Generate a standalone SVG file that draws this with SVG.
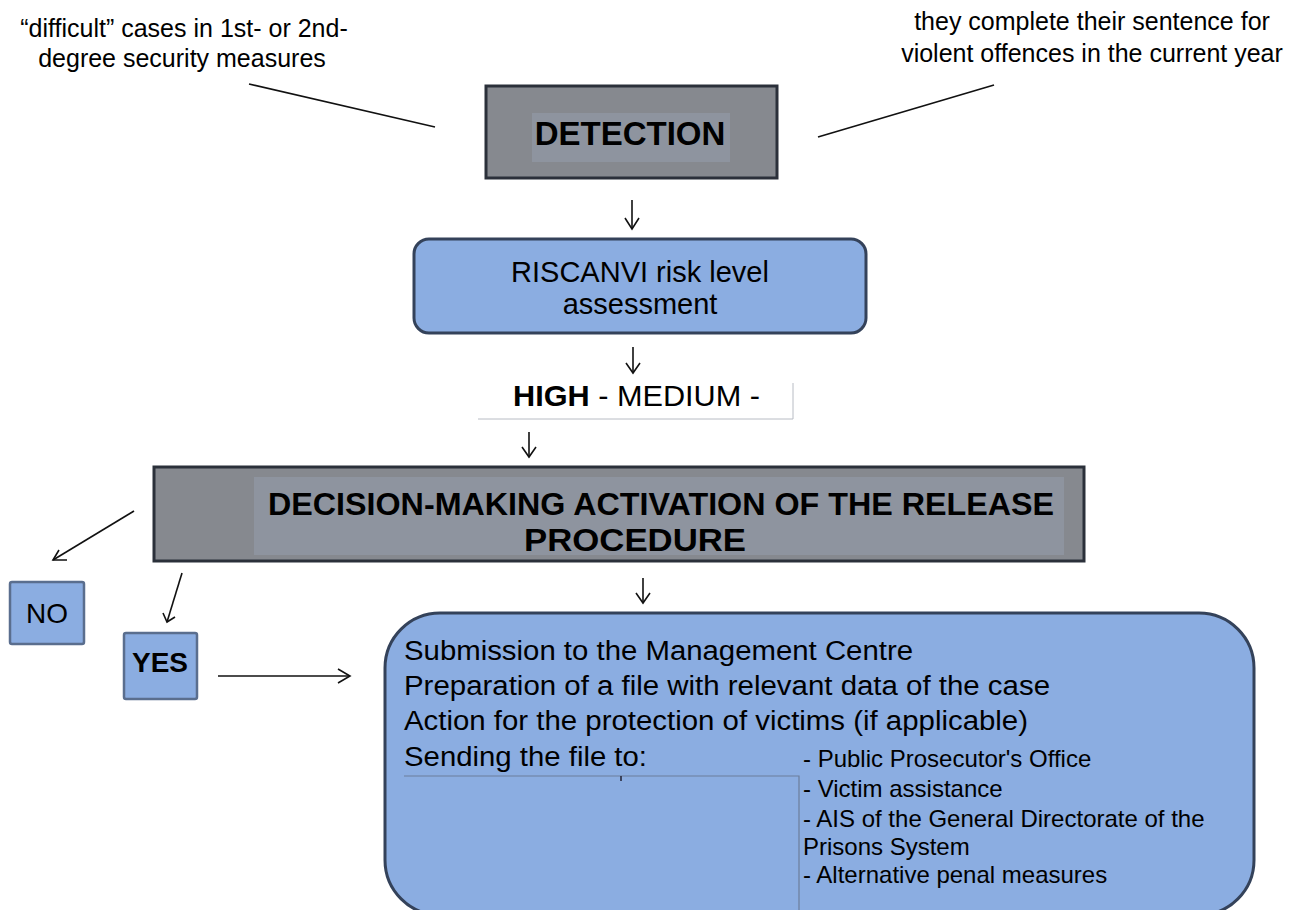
<svg xmlns="http://www.w3.org/2000/svg" width="1299" height="910" viewBox="0 0 1299 910">
<style>
text{font-family:"Liberation Sans",Arial,sans-serif;fill:#000}
.grey{fill:#86898f;stroke:#2b303a;stroke-width:3}
.inner{fill:#8e949f}
.blue{fill:#8badE1;stroke:#34425a;stroke-width:3}
.small{fill:#8badE1;stroke:#5a6e8e;stroke-width:2.5}
.ln{stroke:#111;stroke-width:1.6;fill:none}
.ah{stroke:#111;stroke-width:1.6;fill:none}
.thin{stroke:#b8bcc4;stroke-width:1;fill:none}
.big{font-size:27px}
.list{font-size:24px}
</style>
<rect width="1299" height="910" fill="#fff"/>

<g id="label-left">
<text x="184" y="37" font-size="25" text-anchor="middle">“difficult” cases in 1st- or 2nd-</text>
<text x="182" y="67" font-size="25" text-anchor="middle">degree security measures</text>
</g>
<g id="label-right">
<text x="1092" y="30" font-size="25" text-anchor="middle">they complete their sentence for</text>
<text x="1092" y="62" font-size="25" text-anchor="middle">violent offences in the current year</text>
</g>

<g id="detection">
<rect class="grey" x="486" y="86" width="291" height="92"/>
<rect class="inner" x="532" y="113" width="198" height="49"/>
<text x="630" y="145" font-size="33" font-weight="bold" text-anchor="middle">DETECTION</text>
</g>

<g id="riscanvi">
<rect class="blue" x="414" y="239" width="452" height="94" rx="15"/>
<text x="640" y="282" font-size="29" text-anchor="middle">RISCANVI risk level</text>
<text x="640" y="314" font-size="29" text-anchor="middle">assessment</text>
</g>

<g id="levels">
<polyline class="thin" points="478,419 793,419 793,383"/>
<text x="513" y="406" font-size="30" textLength="247" lengthAdjust="spacingAndGlyphs"><tspan font-weight="bold">HIGH</tspan> - MEDIUM -</text>
</g>

<g id="decision">
<rect class="grey" x="154" y="467" width="930" height="94"/>
<rect class="inner" x="254" y="477" width="810" height="78"/>
<text x="268" y="515" font-size="32" font-weight="bold" textLength="786" lengthAdjust="spacingAndGlyphs">DECISION-MAKING ACTIVATION OF THE RELEASE</text>
<text x="524" y="551" font-size="32" font-weight="bold" textLength="222" lengthAdjust="spacingAndGlyphs">PROCEDURE</text>
</g>

<g id="no">
<rect class="small" x="10" y="582" width="74" height="62" rx="2"/>
<text x="47" y="623" font-size="28" text-anchor="middle">NO</text>
</g>

<g id="yes">
<rect class="small" x="124" y="633" width="73" height="66" rx="2"/>
<text x="160" y="672" font-size="28" font-weight="bold" text-anchor="middle">YES</text>
</g>

<g id="process">
<rect class="blue" x="385" y="613" width="869" height="302" rx="55"/>
<rect x="1238" y="904" width="61" height="6" fill="#fff"/>
<polyline points="404,776 799,776 799,910" fill="none" stroke="#6d7f9c" stroke-width="1.2"/>
<line x1="621" y1="776" x2="621" y2="781" stroke="#223" stroke-width="1.5"/>
<text class="big" x="404" y="660" textLength="509" lengthAdjust="spacingAndGlyphs">Submission to the Management Centre</text>
<text class="big" x="404" y="695" textLength="646" lengthAdjust="spacingAndGlyphs">Preparation of a file with relevant data of the case</text>
<text class="big" x="404" y="730" textLength="624" lengthAdjust="spacingAndGlyphs">Action for the protection of victims (if applicable)</text>
<text class="big" x="404" y="766" textLength="243" lengthAdjust="spacingAndGlyphs">Sending the file to:</text>
<text class="list" x="803" y="767">- Public Prosecutor's Office</text>
<text class="list" x="803" y="797">- Victim assistance</text>
<text class="list" x="803" y="827">- AIS of the General Directorate of the</text>
<text class="list" x="803" y="855">Prisons System</text>
<text class="list" x="803" y="883">- Alternative penal measures</text>
</g>

<g id="connectors">
<line class="ln" x1="249" y1="84" x2="435" y2="127"/>
<line class="ln" x1="818" y1="137" x2="994" y2="85"/>
<line class="ln" x1="632" y1="200" x2="632" y2="229"/>
<polyline class="ah" points="625,218 632,229 639,218"/>
<line class="ln" x1="633" y1="347" x2="633" y2="373"/>
<polyline class="ah" points="626,363 633,373 640,363"/>
<line class="ln" x1="529" y1="432" x2="529" y2="457"/>
<polyline class="ah" points="522,447 529,457 536,447"/>
<line class="ln" x1="643" y1="578" x2="643" y2="603"/>
<polyline class="ah" points="636,593 643,603 650,593"/>
<line class="ln" x1="134" y1="511" x2="53" y2="560"/>
<polyline class="ah" points="59,550 53,560 67,560"/>
<line class="ln" x1="182" y1="573" x2="167" y2="622"/>
<polyline class="ah" points="163,613 167,622 175,617"/>
<line class="ln" x1="218" y1="676" x2="350" y2="676"/>
<polyline class="ah" points="338,669 350,676 338,683"/>
</g>
</svg>
